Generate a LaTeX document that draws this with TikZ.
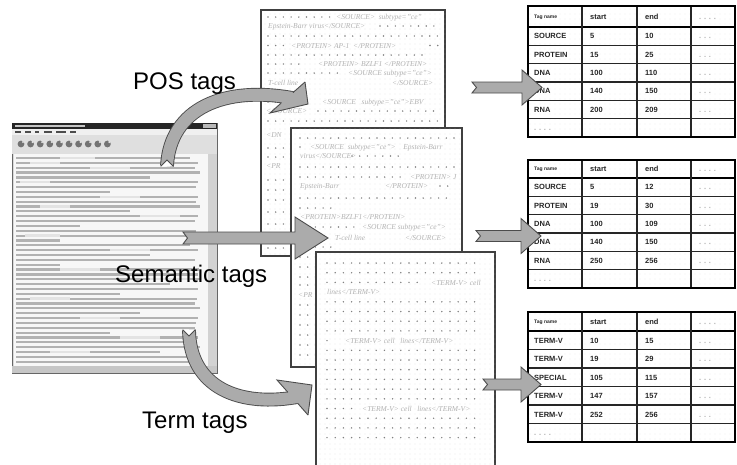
\documentclass[tikz,border=0pt]{standalone}
\usepackage{fontspec}
\setmainfont{Liberation Serif}
\setsansfont{Liberation Sans}
\usetikzlibrary{calc,fit,patterns.meta}

\tikzset{
  page/.style={draw=black!75, line width=1.1pt, fill=white, inner sep=0pt,
    postaction={pattern={Dots[distance=5pt,radius=0.3pt]}, pattern color=gray!45}},
  dotc/.style={fill=black!50},
  tagtxt/.style={inner sep=0pt, anchor=base west, font=\fontsize{7.5}{8}\selectfont\itshape, text=gray!60},
  lbl/.style={inner sep=0pt, anchor=base west, font=\sffamily\fontsize{24}{26}\selectfont},
  garrow/.style={fill=gray!66, draw=black!70, line width=0.9pt, line join=miter},
  band/.style={line width=0.9pt, draw=black!70, double=gray!66, double distance=12pt},
  headline/.style={draw=black!70, line width=0.9pt, line join=miter},
  tblbox/.style={draw=black, line width=2.8pt, inner sep=0pt},
  trule/.style={draw=black!85, line width=1.3pt},
  theadline/.style={draw=black, line width=2pt},
  tcell/.style={inner sep=0pt, anchor=base west, font=\sffamily\bfseries\fontsize{7.5}{8}\selectfont, text=black!85},
  thsmall/.style={inner sep=0pt, anchor=base west, font=\sffamily\bfseries\fontsize{5}{6}\selectfont, text=black!85},
  thtxt/.style={inner sep=0pt, anchor=base west, font=\sffamily\bfseries\fontsize{7.5}{8}\selectfont, text=black!85},
  tdots/.style={inner sep=0pt, anchor=base west, font=\sffamily\bfseries\fontsize{7.5}{8}\selectfont, text=gray!60},
  scrline/.style={draw=gray!60, line width=2.2pt},
}

\newcommand\drow[4]{\foreach \k in {1,...,#3}{\fill[dotc] ({#1+(\k-1)*#4},{#2}) circle[radius=0.8pt];}}
\newcommand\ptag[4]{\node[tagtxt] (#1) at (#2,#3) {#4};}
\newcommand\flatarrow[5]{%
  \filldraw[garrow] ($(#1)+(0,-#3)$) -- ($(#2)+(-#5,-#3)$) -- ($(#2)+(-#5,-#4)$) -- (#2)
    -- ($(#2)+(-#5,#4)$) -- ($(#2)+(-#5,#3)$) -- ($(#1)+(0,#3)$) -- ($(#1)+(4.5,0)$) -- cycle;}
\newcommand\mktable[4]{%
  \fill[pattern={Dots[distance=5pt,radius=0.3pt]}, pattern color=gray!35] (528,#2) rectangle (735,#4);
  \draw[theadline] (528,#3) -- (735,#3);
  \foreach \kk in {1,...,5}{\draw[trule] (528,{#3+\kk*(#4-#3)/6}) -- (735,{#3+\kk*(#4-#3)/6});}
  \foreach \cx in {582,637,691}{\draw[trule] (\cx,#2) -- (\cx,#4);}
  \node[tblbox, fit={(528,#2) (735,#4)}] (#1) {};
  \node[thsmall] (#1h1) at (534,{(#2+#3)/2+1.8}) {Tag name};
  \node[thtxt] (#1h2) at (590,{(#2+#3)/2+2.6}) {start};
  \node[thtxt] (#1h3) at (645,{(#2+#3)/2+2.6}) {end};
  \node[tdots] (#1h4) at (699,{(#2+#3)/2+2.6}) {. . . .};
  \node[tdots] (#1last) at (534,{#4-(#4-#3)/12+2.6}) {. . . .};}
\newcommand\trow[7]{%
  \node[tcell] (#1n#2) at (534,{#3+(#2-0.5)*#4+2.8}) {#5};
  \node[tcell] (#1s#2) at (590,{#3+(#2-0.5)*#4+2.8}) {#6};
  \node[tcell] (#1e#2) at (645,{#3+(#2-0.5)*#4+2.8}) {#7};
  \node[tdots] (#1d#2) at (699,{#3+(#2-0.5)*#4+2.8}) {. . .};}

\begin{document}
\begin{tikzpicture}[x=1pt,y=-1pt]
\useasboundingbox (0,0) rectangle (737,464);
\fill[white] (0,0) rectangle (737,464);

% ---------- screenshot window ----------
\node[draw=black!60, line width=0.8pt, fill=gray!30, inner sep=0pt, fit={(12,123) (217,373)}] (scr) {};
\fill[black!85] (12.4,123.4) rectangle (216.6,128.5);
\fill[gray!45] (15,124.5) rectangle (85,127.3);
\fill[gray!55] (203,124.2) rectangle (215.5,127.8);
\fill[gray!12] (12.4,128.5) rectangle (216.6,135);
\foreach \mx/\mw in {15/6,25/6,35/4,44/8,56/10,70/6}{\draw[black!70, line width=1.6pt] (\mx,132) -- ++(\mw,0);}
\fill[gray!25] (12.4,135) rectangle (216.6,153.5);
\foreach \i in {0,...,9}{\fill[black!55] ({21+\i*9.6},144) ellipse[x radius=3.4pt, y radius=3.4pt];
  \fill[gray!25] ({23+\i*9.6},142) circle[radius=1.2pt];}
\fill[gray!6] (14,154) rectangle (208,366);
\fill[gray!35] (208,154) rectangle (216.6,366);
\fill[gray!45] (12.4,366) rectangle (216.6,372.6);
\foreach \L [count=\i from 0] in {190,198,195,200,150,198,196,110,198,196,200,130,198,195,80,196,200,60,190,198,150,195,60,199,198,200,170,198,120,197,195,200,140,198,196,195,110,198,196,200,160,198,195}
  {\draw[scrline] (16,{158+4.85*\i}) -- (\L,{158+4.85*\i});}
\foreach \i/\a/\b in {0/60/95,1/30/60,2/90/130,5/20/50,8/100/140,10/40/70,12/140/180,16/25/60,19/110/150,23/60/100,25/150/190,29/30/70,33/80/120,37/120/160,40/50/90}
  {\draw[gray!22, line width=2.4pt] (\a,{158+4.85*\i}) -- (\b,{158+4.85*\i});}

% ---------- page 1 (POS) ----------
\node[page, fit={(261,10) (445,256)}] (p1) {};
\drow{268}{17}{9}{7.7}
\ptag{p1a}{336}{19.5}{<SOURCE>\ \ subtype="ce"}
\ptag{p1b}{268}{28.5}{Epstein-Barr virus</SOURCE>}
\drow{380}{26}{8}{7.7}
\drow{268}{36}{23}{7.7}
\drow{268}{45.5}{3}{7.7}
\ptag{p1c}{291}{48}{<PROTEIN>\ AP-1\ \ </PROTEIN>}
\drow{430}{45.5}{2}{7.7}
\drow{268}{55}{21}{7.7}
\drow{268}{64}{5}{7.7}
\ptag{p1d}{318}{66.5}{<PROTEIN>\ BZLF1\ </PROTEIN>}
\drow{268}{73}{10}{7.7}
\ptag{p1e}{348}{75.5}{<SOURCE\ subtype="ce">}
\ptag{p1f}{268}{85}{T-cell line}
\ptag{p1g}{392}{85}{</SOURCE>}
\drow{268}{93}{4}{7.7}
\drow{268}{102}{6}{7.7}
\ptag{p1h}{322}{104.5}{<SOURCE\ \ \ subtype="ce">EBV}
\ptag{p1i}{266}{113.5}{</SOURCE>}
\drow{318}{111}{16}{7.7}
\drow{268}{121}{23}{7.7}
\ptag{p1j}{266}{137}{<DN}
\drow{268}{148}{3}{7.7}
\drow{268}{157}{3}{7.7}
\ptag{p1k}{266}{168}{<PR}
\foreach \yy in {180,190,200,212,224,236,248}{\drow{268}{\yy}{3}{7.7}}

% ---------- page 2 (semantic) ----------
\node[page, fit={(291,128) (462,367)}] (p2) {};
\drow{300}{138}{21}{7.7}
\drow{300}{147}{1}{7.7}
\ptag{p2a}{310}{149}{<SOURCE\ \ subtype="ce">\ \ \ \ Epstein-Barr}
\ptag{p2b}{300}{158.5}{virus</SOURCE>}
\drow{352}{156}{7}{7.7}
\drow{300}{167}{21}{7.7}
\drow{300}{177}{14}{7.7}
\ptag{p2c}{410}{179.5}{<PROTEIN>\ J}
\ptag{p2d}{300}{188.5}{Epstein-Barr}
\ptag{p2e}{385}{188.5}{</PROTEIN>}
\drow{440}{186}{2}{7.7}
\drow{300}{198}{20}{7.7}
\drow{300}{208}{5}{7.7}
\ptag{p2f}{300}{219.5}{<PROTEIN>BZLF1</PROTEIN>}
\drow{300}{227}{8}{7.7}
\ptag{p2g}{362}{229.5}{<SOURCE\ subtype="ce">}
\ptag{p2h}{335}{240}{T-cell line}
\ptag{p2i}{405}{240}{</SOURCE>}
\drow{300}{247}{5}{7.7}
\foreach \yy in {257,267,277,285,305,315,325,335,345,355}{\drow{300}{\yy}{21}{7.7}}
\ptag{p2j}{298}{297}{<PR}

% ---------- big arrows ----------
% POS (curved, up)
\coordinate (posS) at (167,166);
\coordinate (posE) at (295,98.5);
\draw[band] (posS) .. controls (170,108) and (225,85) .. (posE);
\fill[gray!66] (270,113) -- (305,82) -- (308,104) -- cycle;
\draw[headline] (305,82) -- (308,104) -- (270,113) -- (281,103.2);
\draw[headline] (293,92.6) -- (305,82);
\fill[white] (160.6,166.3) -- (167,160) -- (173.4,166.3) -- cycle;
\draw[headline] (160.6,166.3) -- (167,160) -- (173.4,166.3);

% Semantic (straight)
\coordinate (semS) at (183,238);
\coordinate (semE) at (328,238);
\flatarrow{semS}{semE}{6}{21}{33}

% Term (curved, down)
\coordinate (termS) at (189,330);
\coordinate (termE) at (300,396.5);
\draw[band] (termS) .. controls (190,388) and (240,408) .. (termE);
\fill[gray!66] (277,380) -- (308,415) -- (312,385) -- cycle;
\draw[headline] (308,415) -- (312,385) -- (277,380) -- (287.8,392.2);
\draw[headline] (297.8,403.4) -- (308,415);
\fill[white] (182.6,329.7) -- (189,336) -- (195.4,329.7) -- cycle;
\draw[headline] (182.6,329.7) -- (189,336) -- (195.4,329.7);

% ---------- page 3 (term) ----------
\node[page, fit={(316,252) (495,470)}] (p3) {};
\foreach \i in {0,1,4,5,6,7,9,10,11,12,13,14,16,17,18}{\drow{327}{263+9.7*\i}{19}{8.2}}
\drow{327}{282.4}{12}{8.2}
\ptag{p3a}{431}{285}{<TERM-V>\ cell}
\ptag{p3b}{327}{294.5}{lines</TERM-V>}
\drow{327}{340.6}{1}{8.2}
\ptag{p3c}{345}{343}{<TERM-V>\ cell\ \ \ lines</TERM-V>}
\drow{327}{408.5}{4}{8.2}
\ptag{p3d}{362}{411}{<TERM-V>\ cell\ \ \ lines</TERM-V>}

% ---------- tables ----------
\mktable{t1}{6}{27}{137}
\trow{t1}{1}{27}{18.333}{SOURCE}{5}{10}
\trow{t1}{2}{27}{18.333}{PROTEIN}{15}{25}
\trow{t1}{3}{27}{18.333}{DNA}{100}{110}
\trow{t1}{4}{27}{18.333}{DNA}{140}{150}
\trow{t1}{5}{27}{18.333}{RNA}{200}{209}

\mktable{t2}{160}{178}{288}
\trow{t2}{1}{178}{18.333}{SOURCE}{5}{12}
\trow{t2}{2}{178}{18.333}{PROTEIN}{19}{30}
\trow{t2}{3}{178}{18.333}{DNA}{100}{109}
\trow{t2}{4}{178}{18.333}{DNA}{140}{150}
\trow{t2}{5}{178}{18.333}{RNA}{250}{256}

\mktable{t3}{312}{331}{442}
\trow{t3}{1}{331}{18.5}{TERM-V}{10}{15}
\trow{t3}{2}{331}{18.5}{TERM-V}{19}{29}
\trow{t3}{3}{331}{18.5}{SPECIAL}{105}{115}
\trow{t3}{4}{331}{18.5}{TERM-V}{147}{157}
\trow{t3}{5}{331}{18.5}{TERM-V}{252}{256}

% ---------- small arrows to tables ----------
\coordinate (a1S) at (472,87.5);  \coordinate (a1E) at (542,87.5);
\coordinate (a2S) at (476,236);   \coordinate (a2E) at (541,236);
\coordinate (a3S) at (483,384.5); \coordinate (a3E) at (541,384.5);
\flatarrow{a1S}{a1E}{5.5}{17.5}{20}
\flatarrow{a2S}{a2E}{5.5}{17.5}{20}
\flatarrow{a3S}{a3E}{5.5}{17.5}{20}

% ---------- labels ----------
\node[lbl] (lpos) at (133,89.5) {POS tags};
\node[lbl] (lsem) at (115,282) {Semantic tags};
\node[lbl] (lterm) at (142,428) {Term tags};
\end{tikzpicture}
\end{document}
